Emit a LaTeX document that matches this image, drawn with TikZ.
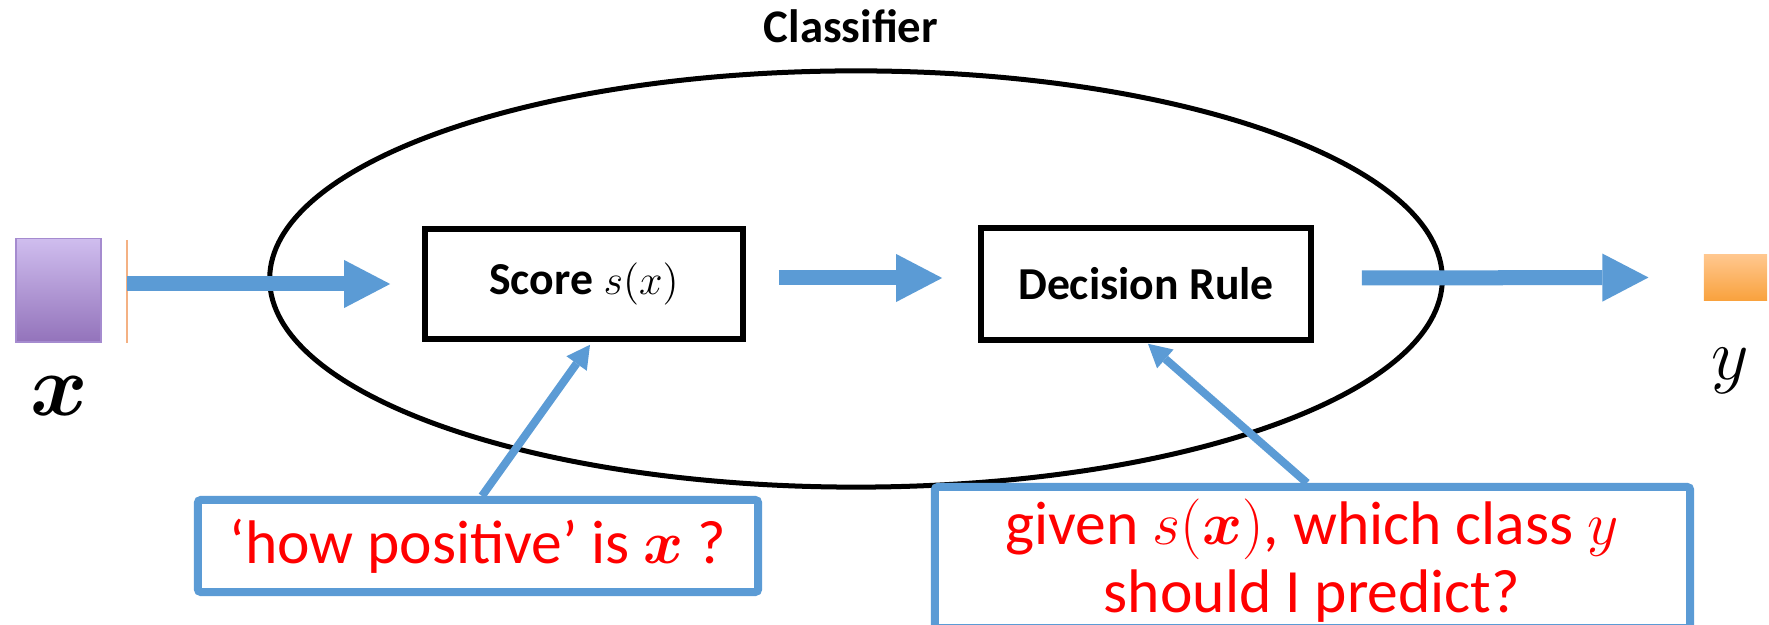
\documentclass[tikz,border=0pt]{standalone}
\usepackage{amsmath}
\usepackage{fontspec}
\setmainfont{Carlito}
\usetikzlibrary{arrows.meta,calc,shapes.geometric}

\definecolor{flowblue}{HTML}{5B9BD5}
\definecolor{inTop}{HTML}{CFBDEE}
\definecolor{inBot}{HTML}{9373BB}
\definecolor{inEdge}{HTML}{A58BCF}
\definecolor{outTop}{HTML}{FFC78E}
\definecolor{outBot}{HTML}{F9A23E}
\definecolor{edgeOrange}{HTML}{F4B183}

\tikzset{
  frame/.style={draw=black, line width=0.055cm, fill=white, inner sep=0pt,
    font=\fontsize{13}{16}\selectfont\bfseries},
  flow/.style={draw=flowblue, line width=0.15cm,
    -{Triangle[length=0.46cm,width=0.48cm,line width=0pt]}},
  pointer/.style={draw=flowblue, line width=0.08cm,
    -{Triangle[length=0.23cm,width=0.25cm,line width=0pt]}},
  callout/.style={draw=flowblue, line width=0.08cm, fill=white,
    rounded corners=0.03cm, inner sep=0pt},
  redtext/.style={text=red, font=\fontsize{17.5}{19.35}\selectfont},
  square/.style={inner sep=0pt, line width=0.3pt},
}

\begin{document}
\begin{tikzpicture}[x=0.01cm, y=-0.01cm]
\clip (0,0) rectangle (1769,625);

% classifier outline and title
\node[draw, ellipse, line width=0.05cm, inner sep=0pt,
      minimum width=11.72cm, minimum height=4.16cm] (clf) at (856,279) {};
\node[font=\fontsize{13.3}{16}\selectfont\bfseries, anchor=base] (clflabel) at (851,43) {Classifier};

% the two stages
\node[frame, minimum width=3.18cm, minimum height=1.10cm] (score) at (584,284) {Score $s(x)$};
\node[frame, minimum width=3.30cm, minimum height=1.12cm] (rule) at (1146,284) {Decision Rule};

% input and output
\node[square, draw=inEdge, top color=inTop, bottom color=inBot,
      minimum width=0.85cm, minimum height=1.03cm] (xin) at (58.5,290.5) {};
\draw[edgeOrange, line width=0.6pt] (127,240) -- (127,343);
\coordinate (xstart) at (127,284);
\node[font=\fontsize{23}{28}\selectfont] (xlab) at (59,396) {$\boldsymbol{x}$};

\node[square, top color=outTop, bottom color=outBot,
      minimum width=0.63cm, minimum height=0.45cm] (yout) at (1735.5,277.5) {};
\node[font=\fontsize{20}{24}\selectfont] (ylab) at (1730,371) {$y$};

% main flow
\draw[flow] (xstart) -- ($(score.west)+(-32,0)$);
\draw[flow] ($(score.east)+(33,-6)$) -- ($(rule.west)+(-36,-6)$);
\draw[flow] ($(rule.east)+(48,-6)$) -- ($(yout.west)+(-55,0)$);

% explanatory call-outs
\node[callout, redtext, minimum width=5.60cm, minimum height=0.92cm] (how) at (478,546)
      {‘how positive’ is $\boldsymbol{x}$ ?};
\node[callout, minimum width=7.55cm, minimum height=1.41cm, anchor=north] (why) at (1312.5,483) {};
\node[redtext, align=center, anchor=base] (whytext)
      at (1312,613) {given $s(\boldsymbol{x})$, which class $y$\\should I predict?};

\draw[pointer] ($(how.north)+(4,0)$) -- ($(score.south)+(6,3)$);
\draw[pointer] ($(why.north)+(-5.5,0)$) -- ($(rule.south)+(2,1)$);
\end{tikzpicture}
\end{document}
